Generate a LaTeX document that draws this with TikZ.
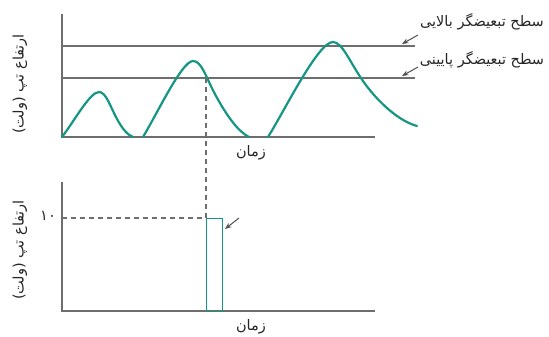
\documentclass[tikz,border=0pt]{standalone}
\usepackage{fontspec}
\TeXXeTstate=1
\newfontfamily\arabicfont[Script=Arabic]{DejaVu Sans}
\usetikzlibrary{arrows.meta}
\definecolor{curveteal}{RGB}{20,150,130}
\definecolor{axgray}{RGB}{110,110,110}
\definecolor{arrowgray}{RGB}{80,80,80}
\tikzset{
  axisline/.style={draw=axgray, line width=1.9pt},
  levelline/.style={draw=axgray, line width=1.8pt},
  signal/.style={draw=curveteal, line width=2.2pt, line join=round, line cap=round},
  pulsebox/.style={draw=curveteal, line width=1.3pt},
  guide/.style={draw=axgray, line width=1.3pt, dash pattern=on 5pt off 4pt},
  pointer/.style={draw=arrowgray, line width=1pt, -{Stealth[length=6.5pt,width=5pt]}},
  fa/.style={font=\arabicfont\fontsize{14.5}{16}\selectfont, inner sep=0pt, text=black!85}
}
\begin{document}
\begin{tikzpicture}[x=1pt,y=-1pt]
\useasboundingbox (0,0) rectangle (549,337);
% top panel axes
\coordinate (tO) at (62,137);
\coordinate (tY) at (62,14);
\coordinate (tX) at (375,137);
\draw[axisline] (tY) -- (tO) -- (tX);
% discriminator levels
\coordinate (upA) at (62,45.7);
\coordinate (upB) at (415,45.7);
\coordinate (loA) at (62,78.3);
\coordinate (loB) at (415,78.3);
\draw[levelline] (upA) -- (upB);
\draw[levelline] (loA) -- (loB);
% signal
\draw[signal] (62,137) .. controls (75,120) and (90,92) .. (99,92)
  .. controls (106,92) and (110,106) .. (117,119)
  .. controls (123,130) and (128,135) .. (133,137);
\draw[signal] (143,137) .. controls (158,112) and (182,61) .. (193,61)
  .. controls (202,61) and (206,78) .. (216,96)
  .. controls (228,118) and (239,132) .. (249,137);
\draw[signal] (268,137) .. controls (285,110) and (318,42) .. (333,42)
  .. controls (342,42) and (350,62) .. (361,78)
  .. controls (372,95) and (395,120) .. (417,126);
% labels
\node[fa] (upl) at (482,22) {\beginR سطح تبعیضگر بالایی\endR};
\node[fa] (lol) at (482,60) {\beginR سطح تبعیضگر پایینی\endR};
\coordinate (upT) at (418,35);
\coordinate (upH) at (402,44);
\coordinate (loT) at (418,67);
\coordinate (loH) at (402,76);
\draw[pointer] (upT) -- (upH);
\draw[pointer] (loT) -- (loH);
\node[fa, rotate=90] (ty) at (20,84) {\beginR ارتفاع تپ (ولت)\endR};
\node[fa] (tt) at (251,153) {\beginR زمان\endR};
% bottom panel axes
\coordinate (bO) at (62,311);
\coordinate (bY) at (62,182);
\coordinate (bX) at (375,311);
\draw[axisline] (bY) -- (bO) -- (bX);
% pulse
\node[pulsebox, minimum width=16pt, minimum height=93pt, inner sep=0pt, anchor=north west] (pulse) at (206,218) {};
\coordinate (cross) at (206,78.3);
\coordinate (lev) at (62,218);
\draw[guide] (cross) -- (pulse.north west);
\draw[guide] (lev) -- (pulse.north west);
\node[fa, anchor=east] (ten) at (56,216) {۱۰};
\coordinate (pT) at (239,218);
\coordinate (pH) at (225,229);
\draw[pointer] (pT) -- (pH);
\node[fa, rotate=90] (by) at (20,250) {\beginR ارتفاع تپ (ولت)\endR};
\node[fa] (bt) at (251,327) {\beginR زمان\endR};
\end{tikzpicture}
\end{document}
